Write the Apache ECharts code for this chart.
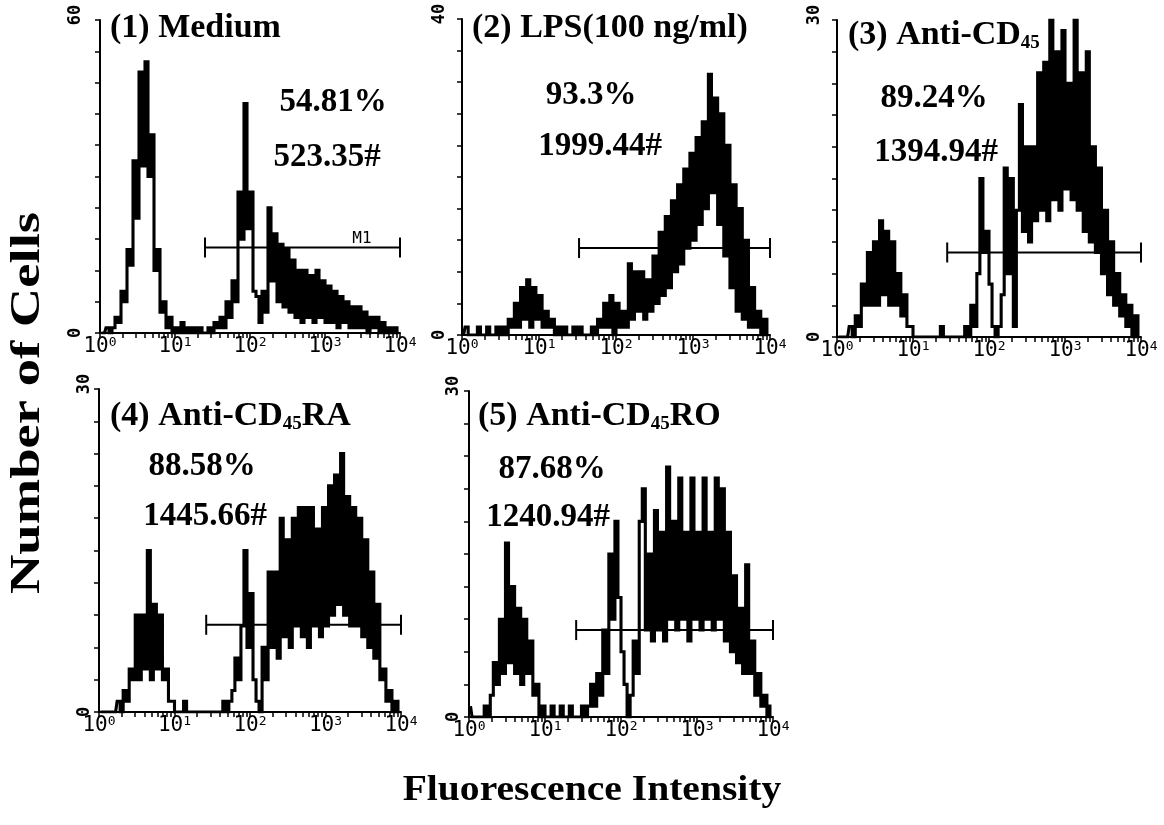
<!DOCTYPE html>
<html><head><meta charset="utf-8">
<script src="https://cdn.jsdelivr.net/npm/echarts@6/dist/echarts.min.js"></script>
<style>html,body{margin:0;padding:0;background:#fff}#c{width:1164px;height:825px}</style>
</head><body><div id="c"></div>
<script>
// ---------- data ----------
const CHANNELS = 100;          // histogram channels spread over the log axis
const DECADES = 4;             // 10^0 .. 10^4
const panelTitles = ['(1) Medium', '(2) LPS(100 ng/ml)', '(3) Anti-CD{sub|45}', '(4) Anti-CD{sub|45}RA', '(5) Anti-CD{sub|45}RO'];
const percentLabels = ['54.81%', '93.3%', '89.24%', '88.58%', '87.68%'];
const meanLabels = ['523.35#', '1999.44#', '1394.94#', '1445.66#', '1240.94#'];
const yMax = [60, 40, 30, 30, 30];
const decadeExponents = [0, 1, 2, 3, 4];
const minorMultipliers = [1, 2, 3, 4, 5, 6, 7, 8, 9];
const markerStart = [1.40, 1.52, 1.45, 1.42, 1.41];   // log10 intensity
const markerEnd = [4, 4, 4, 4, 4];
const markerLevel = [16.4, 11.0, 8.0, 8.1, 8.0];      // cells
const markerName = ['M1', '', '', '', ''];

const counts1 = [0,0,1,0,1,3,2,8,6,16, 13,33,22,50,32,52,30,38,12,16, 4,6,1,3,0,1,0,2,0,1, 0,1,0,1,0,0,1,0,2,1, 3,1,6,3,10,6,27,18,44,20, 27,8,7,2,8,4,24,10,19,6, 17,5,16,4,14,3,12,2,12,3, 11,2,12,3,10,2,9,2,8,1, 7,2,6,1,5,1,5,1,4,0, 3,1,3,0,2,0,1,0,1,0];
const counts2 = [0,1,0,0,0,1,0,0,1,0, 0,1,0,1,0,2,1,4,1,6, 2,7,1,6,2,5,1,3,1,2, 0,1,0,1,0,0,1,0,1,0, 0,0,1,0,2,1,4,1,5,0, 4,1,3,1,9,2,8,3,8,2, 7,3,10,4,13,5,15,6,17,8, 19,9,21,11,23,12,25,14,27,16, 33,18,30,14,28,10,24,6,19,3, 16,2,12,1,6,1,3,0,2,0];
const counts3 = [0,0,0,0,1,0,2,1,5,3, 8,3,9,3,11,4,10,3,9,3, 6,2,4,1,1,0,0,0,0,0, 0,0,0,0,1,0,0,0,0,0, 0,0,1,0,3,1,6,15,8,10, 5,1,0,1,4,16,6,15,1,12, 22,10,18,9,18,11,25,12,26,11, 30,13,27,12,29,14,24,13,30,12, 25,10,27,9,18,8,16,6,12,4, 9,3,6,2,4,1,3,0,2,0];
const counts4 = [0,0,0,0,0,0,1,0,2,1, 4,3,9,3,9,4,15,3,10,4, 9,3,4,1,1,0,0,0,1,0, 0,0,0,0,0,0,0,0,0,0, 0,1,0,1,2,5,3,8,15,6, 11,3,1,0,6,3,13,6,13,5, 18,7,16,6,18,8,19,7,19,6, 19,8,17,7,19,8,21,9,22,10, 24,9,20,8,19,8,18,7,16,6, 13,5,10,3,4,1,2,0,1,0];
const counts5 = [1,0,0,0,0,1,0,2,5,3, 9,4,16,5,12,4,10,3,9,4, 7,2,3,0,1,0,0,1,0,0, 1,0,0,1,0,0,0,1,0,1, 3,1,4,2,8,4,15,9,18,11, 6,3,0,2,7,4,18,21,8,15, 7,19,8,17,7,23,9,18,8,22, 9,17,7,22,9,17,8,22,9,17, 8,22,9,21,7,17,6,13,5,10, 4,14,4,7,2,4,1,2,0,1];
const allCounts = [counts1, counts2, counts3, counts4, counts5];

// ---------- layout ----------
const SERIF = '"Liberation Serif","Times New Roman",Times,serif';
const MONO = '"DejaVu Sans Mono","Liberation Mono",monospace';
const grids = [
  {left: 100, top: 20, width: 300, height: 313},
  {left: 462, top: 19, width: 308, height: 316},
  {left: 837, top: 20, width: 304, height: 317},
  {left: 99, top: 389, width: 302, height: 323},
  {left: 469, top: 391, width: 304, height: 326}
];
const yLabelMargin = [16, 14, 14, 6, 7];
const titlePos = [[110, 28], [472, 28], [848, 35], [110, 416], [478, 416]];
const pctPos = [[333, 102], [591, 95], [934, 98], [202, 466], [552, 469]];
const meanPos = [[327, 157], [600, 146], [936, 152], [205, 516], [548, 517]];

const tickValues = [];
decadeExponents.forEach(d => {
  minorMultipliers.forEach(m => {
    const v = d + Math.log10(m);
    if (v <= DECADES + 1e-9) tickValues.push(+v.toFixed(5));
  });
});

const xAxes = [], yAxes = [], series = [], graphics = [];
grids.forEach((g, i) => {
  xAxes.push({
    type: 'value', gridIndex: i, min: 0, max: DECADES,
    axisLine: {show: true, onZero: false, lineStyle: {color: '#000', width: 2}},
    axisTick: {show: true, length: 5, customValues: tickValues, lineStyle: {color: '#000', width: 1.5}},
    splitLine: {show: false},
    axisLabel: {
      customValues: decadeExponents, margin: 3,
      formatter: v => '{b|10}{s|' + v + '}',
      rich: {
        b: {fontFamily: MONO, fontSize: 21, color: '#000', lineHeight: 21},
        s: {fontFamily: MONO, fontSize: 13, color: '#000', lineHeight: 13, verticalAlign: 'top'}
      }
    }
  });
  yAxes.push({
    type: 'value', gridIndex: i, min: 0, max: yMax[i], interval: yMax[i] / 10,
    axisLine: {show: true, lineStyle: {color: '#000', width: 2}},
    axisTick: {show: true, length: 5, lineStyle: {color: '#000', width: 1.5}},
    splitLine: {show: false},
    axisLabel: {
      rotate: 90, margin: yLabelMargin[i], color: '#000',
      showMinLabel: true, showMaxLabel: true,
      formatter: v => v === 0 ? '{n|0}' : (Math.abs(v - yMax[i]) < 1e-9 ? '{t|' + v + '}' : ''),
      rich: {
        n: {fontFamily: MONO, fontSize: 17, fontWeight: 'bold', color: '#000'},
        t: {fontFamily: MONO, fontSize: 17, fontWeight: 'bold', color: '#000', padding: [0, 0, 0, 10]}
      }
    }
  });
  series.push({
    type: 'line', xAxisIndex: i, yAxisIndex: i, step: 'middle', symbol: 'none', showSymbol: false,
    data: allCounts[i].map((c, j) => [(j + 0.5) * DECADES / CHANNELS, c]),
    lineStyle: {color: '#000', width: 3.1, join: 'miter'}, silent: true, animation: false, z: 2
  });
  series.push({
    type: 'line', xAxisIndex: i, yAxisIndex: i, symbol: 'rect', symbolSize: [2, 20], showSymbol: true,
    data: [[markerStart[i], markerLevel[i]], [markerEnd[i], markerLevel[i]]],
    itemStyle: {color: '#000'}, lineStyle: {color: '#000', width: 2}, silent: true, animation: false, z: 3,
    label: {show: false}
  });
  graphics.push({
    type: 'text', x: titlePos[i][0], y: titlePos[i][1],
    style: {
      text: panelTitles[i], fill: '#000', fontFamily: SERIF, fontWeight: 'bold', fontSize: 34, lineHeight: 36,
      align: 'left', verticalAlign: 'middle', textAlign: 'left', textVerticalAlign: 'middle',
      rich: {sub: {fontFamily: SERIF, fontWeight: 'bold', fontSize: 19, lineHeight: 16, verticalAlign: 'bottom', fill: '#000'}}
    }
  });
  [[percentLabels[i], pctPos[i]], [meanLabels[i], meanPos[i]]].forEach(([t, p]) => {
    graphics.push({
      type: 'text', x: p[0], y: p[1],
      style: {text: t, fill: '#000', fontFamily: SERIF, fontWeight: 'bold', fontSize: 33,
        align: 'center', verticalAlign: 'middle', textAlign: 'center', textVerticalAlign: 'middle'}
    });
  });
});

graphics.push({
  type: 'text', x: 362, y: 239,
  style: {text: markerName[0], fill: '#000', fontFamily: MONO, fontSize: 16,
    align: 'center', verticalAlign: 'middle', textAlign: 'center', textVerticalAlign: 'middle'}
});
graphics.push({
  type: 'text', x: 28, y: 403, rotation: Math.PI / 2, scaleX: 1.3,
  style: {text: 'Number of Cells', fill: '#000', fontFamily: SERIF, fontWeight: 'bold', fontSize: 42,
    align: 'center', verticalAlign: 'middle', textAlign: 'center', textVerticalAlign: 'middle'}
});
graphics.push({
  type: 'text', x: 592, y: 791, scaleX: 1.1,
  style: {text: 'Fluorescence Intensity', fill: '#000', fontFamily: SERIF, fontWeight: 'bold', fontSize: 36,
    align: 'center', verticalAlign: 'middle', textAlign: 'center', textVerticalAlign: 'middle'}
});

const chart = echarts.init(document.getElementById('c'));
chart.setOption({
  backgroundColor: '#fff',
  animation: false,
  grid: grids,
  xAxis: xAxes,
  yAxis: yAxes,
  series: series,
  graphic: graphics
});
</script></body></html>
